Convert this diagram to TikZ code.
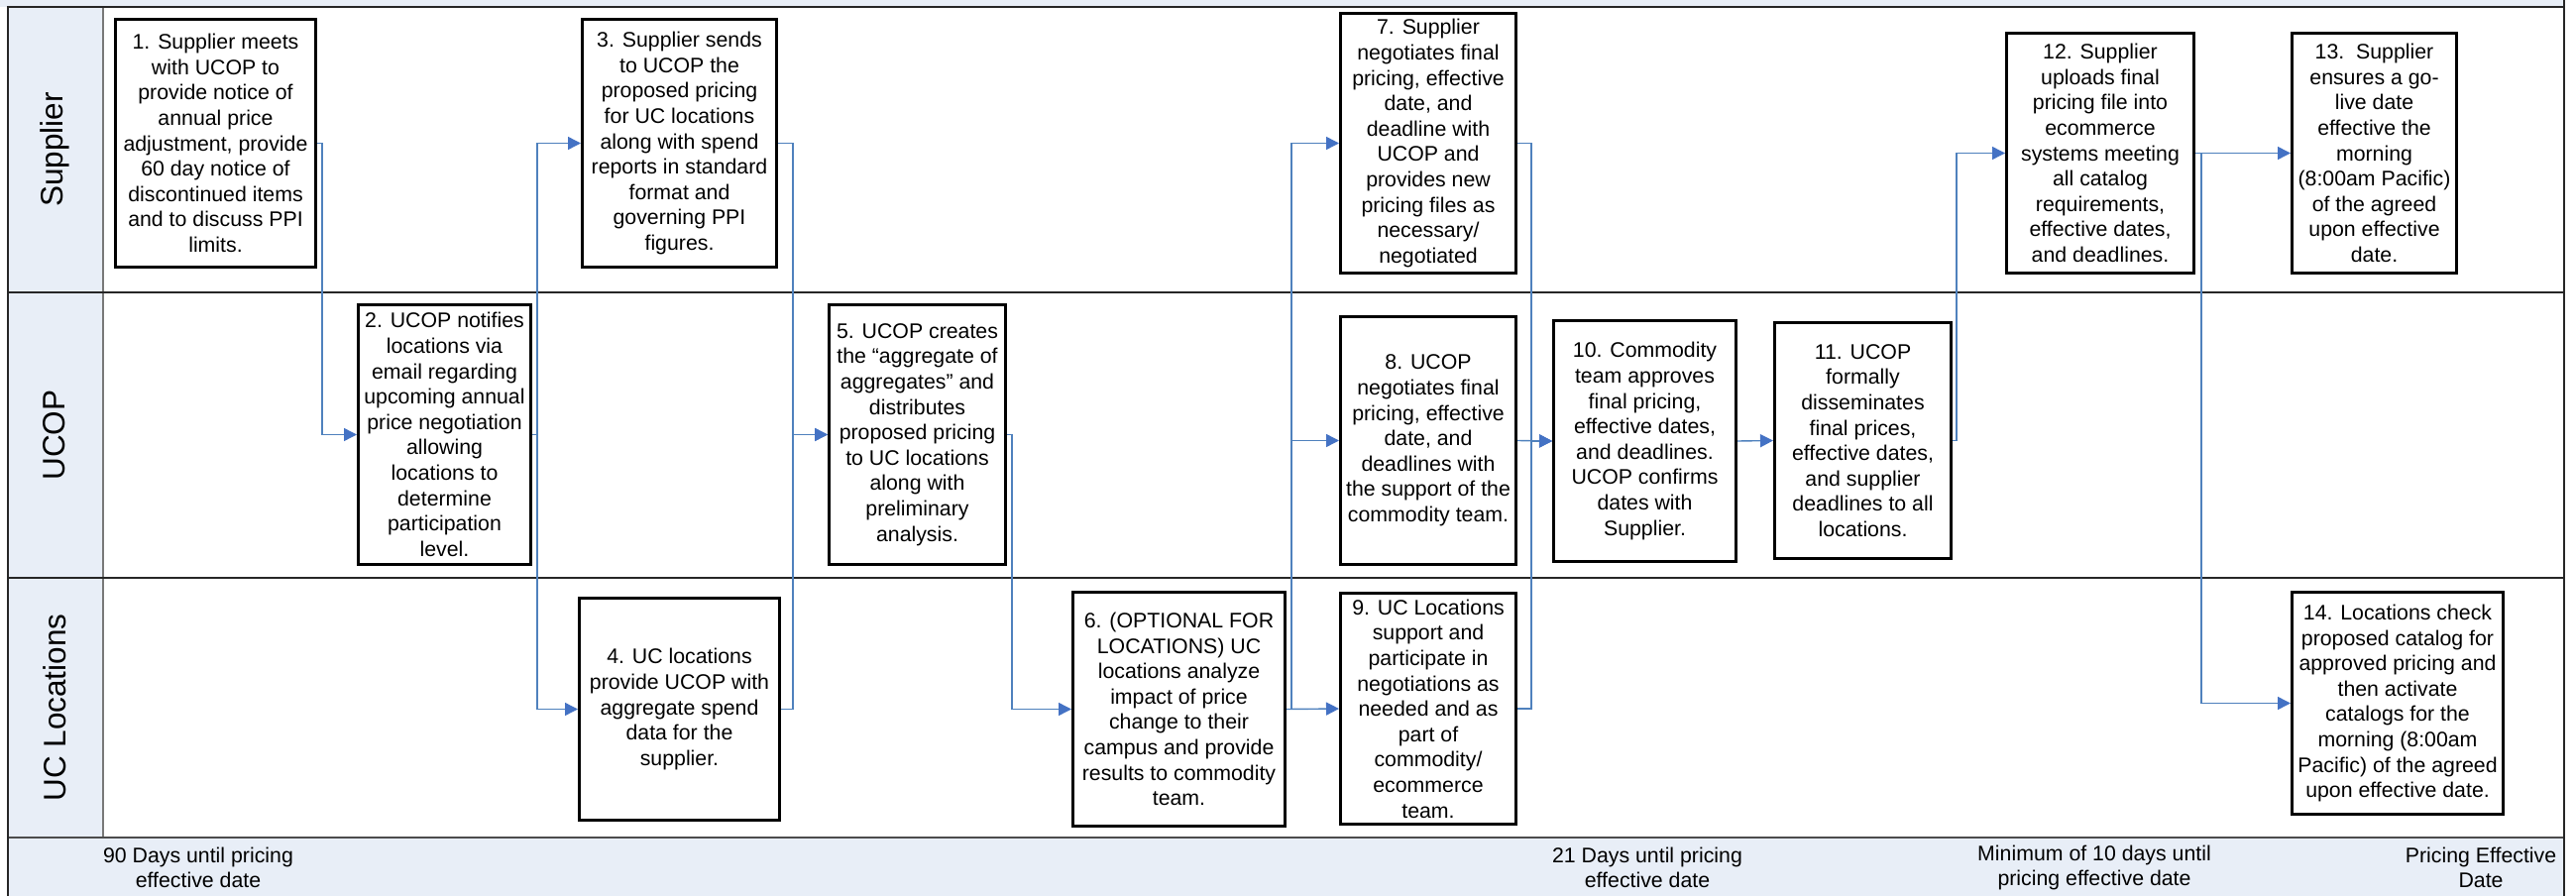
\documentclass[tikz,border=0pt]{standalone}
\usepackage{fontspec}
\setmainfont{Liberation Sans}
\usetikzlibrary{arrows.meta}
\definecolor{bandblue}{RGB}{232,238,247}
\definecolor{lineblue}{RGB}{79,129,189}
\definecolor{tipblue}{RGB}{68,114,196}
\definecolor{sepgray}{RGB}{120,120,120}
\newcommand{\boxfont}{\fontsize{21.3}{25.6}\selectfont}
\newcommand{\lanefont}{\fontsize{31.5}{36}\selectfont}
\tikzset{
  stepbox/.style={draw=black, line width=3pt, fill=white, align=center, inner sep=0pt, font=\boxfont},
  conn/.style={draw=lineblue, line width=1.4pt, -{Triangle[length=13pt,width=13pt,color=tipblue]}},
  lanelabel/.style={rotate=90, font=\lanefont, inner sep=0pt},
  footlabel/.style={align=center, font=\boxfont, inner sep=0pt},
  laneline/.style={draw=black!85, line width=2pt},
  band/.style={fill=bandblue, draw=none}
}
\begin{document}
\begin{tikzpicture}[x=1pt, y=-1pt]
\useasboundingbox (0,0) rectangle (2599,904);
% backgrounds
\fill[white] (0,0) rectangle (2599,904);
\path[band] (0,0) rectangle (2587,7);
\path[band] (7,7) rectangle (104,845);
\path[band] (7,845) rectangle (2587,904);
% lane lines
\draw[draw=sepgray, line width=2pt] (104,7) -- (104,845);
\draw[laneline] (7,7) -- (2587,7);
\draw[laneline] (7,295) -- (2587,295);
\draw[laneline] (7,583) -- (2587,583);
\draw[draw=black!70, line width=2pt] (7,845) -- (2587,845);
\draw[laneline] (7.5,7) -- (7.5,904);
\draw[laneline] (2587,0) -- (2587,904);
% lane labels
\node[lanelabel] (lsup) at (55,151) {Supplier};
\node[lanelabel] (lucop) at (55,439) {UCOP};
\node[lanelabel] (lloc) at (55,714) {UC Locations};
% footer labels
\node[footlabel] (f90) at (200,875.5) {90 Days until pricing\\effective date};
\node[footlabel] (f21) at (1662,875.5) {21 Days until pricing\\effective date};
\node[footlabel] (f10) at (2113,875.5) {Minimum of 10 days until\\pricing effective date};
\node[footlabel] (fpe) at (2503,875.5) {Pricing Effective\\Date};
% boxes
\node[stepbox, minimum width=202, minimum height=250] (n1) at (217.5,144.5)
 {1. Supplier meets\\with UCOP to\\provide notice of\\annual price\\adjustment, provide\\60 day notice of\\discontinued items\\and to discuss PPI\\limits.};
\node[stepbox, minimum width=174, minimum height=262] (n2) at (448.5,438.5)
 {2. UCOP notifies\\locations via\\email regarding\\upcoming annual\\price negotiation\\allowing\\locations to\\determine\\participation\\level.};
\node[stepbox, minimum width=196, minimum height=250] (n3) at (685.5,144.5)
 {3. Supplier sends\\to UCOP the\\proposed pricing\\for UC locations\\along with spend\\reports in standard\\format and\\governing PPI\\figures.};
\node[stepbox, minimum width=202, minimum height=224] (n4) at (685.5,715.5)
 {4. UC locations\\provide UCOP with\\aggregate spend\\data for the\\supplier.};
\node[stepbox, minimum width=178, minimum height=262] (n5) at (925.5,438.5)
 {5. UCOP creates\\the “aggregate of\\aggregates” and\\distributes\\proposed pricing\\to UC locations\\along with\\preliminary\\analysis.};
\node[stepbox, minimum width=214, minimum height=236] (n6) at (1189.5,715.5)
 {6. (OPTIONAL FOR\\LOCATIONS) UC\\locations analyze\\impact of price\\change to their\\campus and provide\\results to commodity\\team.};
\node[stepbox, minimum width=177, minimum height=262] (n7) at (1441,144.5)
 {7. Supplier\\negotiates final\\pricing, effective\\date, and\\deadline with\\UCOP and\\provides new\\pricing files as\\necessary/\\negotiated};
\node[stepbox, minimum width=177, minimum height=250] (n8) at (1441,444.5)
 {8. UCOP\\negotiates final\\pricing, effective\\date, and\\deadlines with\\the support of the\\commodity team.};
\node[stepbox, minimum width=177, minimum height=233] (n9) at (1441,715)
 {9. UC Locations\\support and\\participate in\\negotiations as\\needed and as\\part of\\commodity/\\ecommerce\\team.};
\node[stepbox, minimum width=184, minimum height=243] (n10) at (1659.5,445)
 {10. Commodity\\team approves\\final pricing,\\effective dates,\\and deadlines.\\UCOP confirms\\dates with\\Supplier.};
\node[stepbox, minimum width=178, minimum height=238] (n11) at (1879.5,444.5)
 {11. UCOP\\formally\\disseminates\\final prices,\\effective dates,\\and supplier\\deadlines to all\\locations.};
\node[stepbox, minimum width=189, minimum height=242] (n12) at (2119,154.5)
 {12. Supplier\\uploads final\\pricing file into\\ecommerce\\systems meeting\\all catalog\\requirements,\\effective dates,\\and deadlines.};
\node[stepbox, minimum width=166, minimum height=242] (n13) at (2395.5,154.5)
 {13.\ \ Supplier\\ensures a go-\\live date\\effective the\\morning\\(8:00am Pacific)\\of the agreed\\upon effective\\date.};
\node[stepbox, minimum width=213, minimum height=224] (n14) at (2419,709.5)
 {14. Locations check\\proposed catalog for\\approved pricing and\\then activate\\catalogs for the\\morning (8:00am\\Pacific) of the agreed\\upon effective date.};
% routing columns
\coordinate (v1) at (325,0);
\coordinate (v2) at (542,0);
\coordinate (v3) at (800,0);
\coordinate (v4) at (1021,0);
\coordinate (v5) at (1303,0);
\coordinate (v6) at (1545,0);
\coordinate (v7) at (1974,0);
\coordinate (v8) at (2221,0);
% connectors
\draw[conn] (n1.east) -| (v1 |- n2.west) -- (n2.west);
\draw[conn] (n2.east) -| (v2 |- n3.west) -- (n3.west);
\draw[conn] (n2.east) -| (v2 |- n4.west) -- (n4.west);
\draw[conn] (n3.east) -| (v3 |- n5.west) -- (n5.west);
\draw[conn] (n4.east) -| (v3 |- n5.west) -- (n5.west);
\draw[conn] (n5.east) -| (v4 |- n6.west) -- (n6.west);
\draw[conn] (n6.east) -| (v5 |- n7.west) -- (n7.west);
\draw[conn] (n6.east) -| (v5 |- n8.west) -- (n8.west);
\draw[conn] (n6.east) -- (n9.west);
\draw[conn] (n7.east) -| (v6 |- n10.west) -- (n10.west);
\draw[conn] (n8.east) -- (n10.west);
\draw[conn] (n9.east) -| (v6 |- n10.west) -- (n10.west);
\draw[conn] (n10.east) -- (n11.west);
\draw[conn] (n11.east) -| (v7 |- n12.west) -- (n12.west);
\draw[conn] (n12.east) -- (n13.west);
\draw[conn] (n12.east) -| (v8 |- n14.west) -- (n14.west);
\end{tikzpicture}
\end{document}
